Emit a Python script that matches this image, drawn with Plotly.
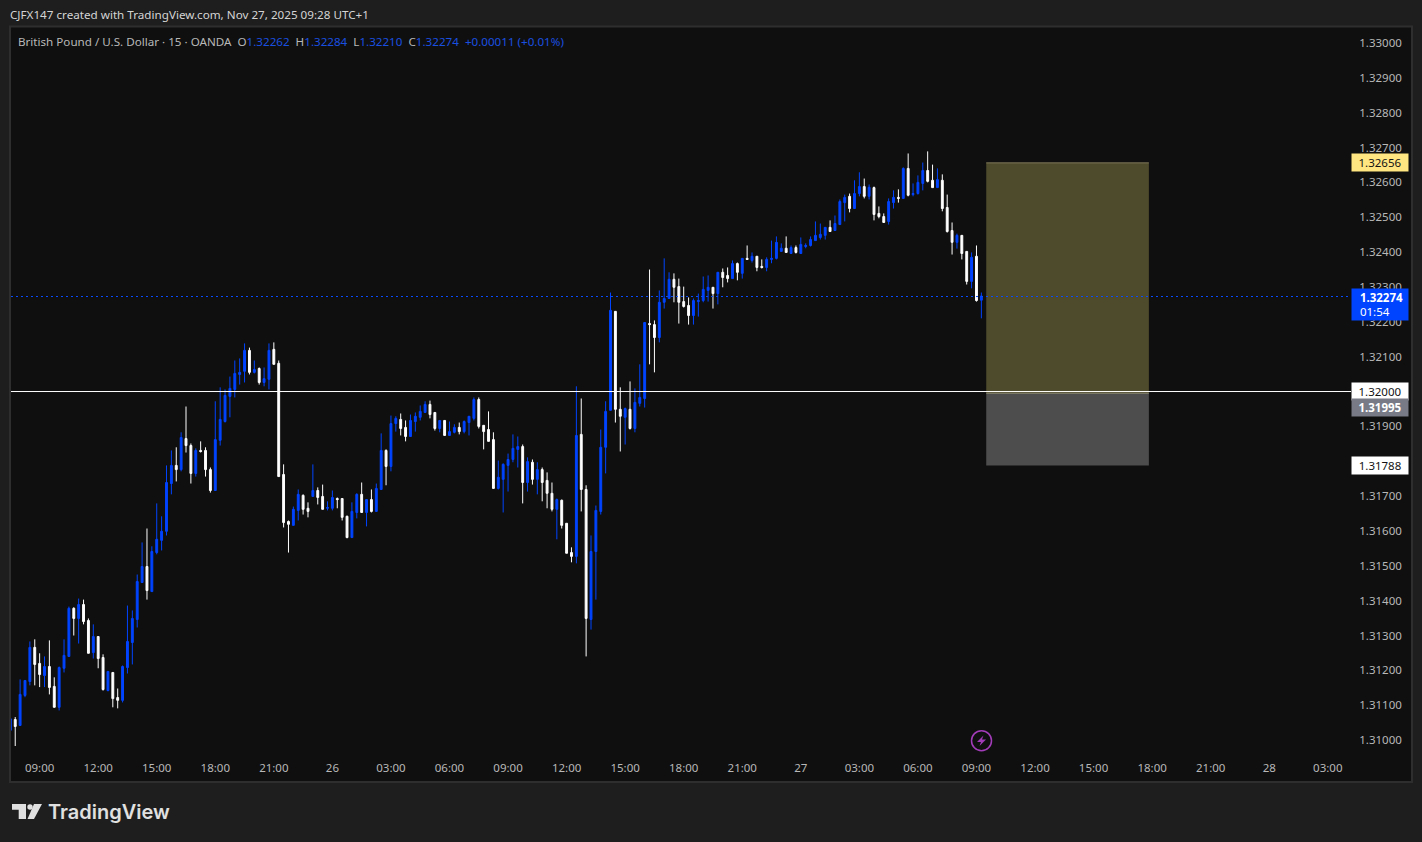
import pandas as pd
import plotly.graph_objects as go

# GBPUSD 15 min candles
times = pd.date_range("2025-11-25 07:30", periods=200, freq="15min")

opens = [
    1.31028, 1.31059, 1.31042, 1.31128, 1.31168, 1.31266, 1.31220, 1.31185, 1.31211, 1.31154,
    1.31094, 1.31206, 1.31240, 1.31378, 1.31349, 1.31389, 1.31343, 1.31251, 1.31297, 1.31237,
    1.31142, 1.31194, 1.31122, 1.31114, 1.31208, 1.31280, 1.31346, 1.31452, 1.31498, 1.31426,
    1.31538, 1.31573, 1.31599, 1.31736, 1.31788, 1.31776, 1.31865, 1.31845, 1.31765, 1.31831,
    1.31831, 1.31776, 1.31716, 1.31860, 1.31914, 1.31986, 1.32006, 1.32049, 1.32058, 1.32118,
    1.32055, 1.32066, 1.32026, 1.32035, 1.32121, 1.32081, 1.31762, 1.31627, 1.31616, 1.31659,
    1.31702, 1.31665, 1.31699, 1.31716, 1.31699, 1.31665, 1.31665, 1.31693, 1.31693, 1.31642,
    1.31581, 1.31653, 1.31705, 1.31653, 1.31690, 1.31656, 1.31719, 1.31831, 1.31785, 1.31908,
    1.31920, 1.31897, 1.31871, 1.31914, 1.31926, 1.31940, 1.31963, 1.31940, 1.31894, 1.31917,
    1.31874, 1.31883, 1.31897, 1.31885, 1.31911, 1.31923, 1.31977, 1.31903, 1.31891, 1.31862,
    1.31722, 1.31748, 1.31788, 1.31805, 1.31834, 1.31842, 1.31739, 1.31797, 1.31748, 1.31776,
    1.31745, 1.31708, 1.31662, 1.31688, 1.31622, 1.31538, 1.31527, 1.31877, 1.31719, 1.31346,
    1.31541, 1.31656, 1.31840, 1.31946, 1.32230, 1.31949, 1.31926, 1.31949, 1.31894, 1.31966,
    1.31980, 1.32195, 1.32192, 1.32155, 1.32256, 1.32267, 1.32322, 1.32301, 1.32258, 1.32247,
    1.32218, 1.32258, 1.32261, 1.32290, 1.32299, 1.32281, 1.32342, 1.32333, 1.32324, 1.32367,
    1.32339, 1.32382, 1.32376, 1.32388, 1.32359, 1.32356, 1.32379, 1.32382, 1.32402, 1.32411,
    1.32396, 1.32413, 1.32396, 1.32416, 1.32419, 1.32433, 1.32442, 1.32448, 1.32471, 1.32462,
    1.32479, 1.32542, 1.32560, 1.32525, 1.32568, 1.32588, 1.32560, 1.32585, 1.32511, 1.32502,
    1.32488, 1.32542, 1.32557, 1.32554, 1.32640, 1.32565, 1.32568, 1.32597, 1.32634, 1.32606,
    1.32585, 1.32606, 1.32528, 1.32462, 1.32428, 1.32448, 1.32402, 1.32316, 1.32388, 1.32262,
]
highs = [
    1.31066, 1.31066, 1.31174, 1.31171, 1.31283, 1.31289, 1.31249, 1.31240, 1.31286, 1.31180,
    1.31211, 1.31289, 1.31383, 1.31381, 1.31406, 1.31403, 1.31349, 1.31332, 1.31297, 1.31246,
    1.31197, 1.31194, 1.31148, 1.31214, 1.31386, 1.31372, 1.31475, 1.31567, 1.31607, 1.31556,
    1.31679, 1.31642, 1.31788, 1.31831, 1.31840, 1.31883, 1.31957, 1.31851, 1.31837, 1.31857,
    1.31840, 1.31782, 1.31972, 1.32012, 1.32006, 1.32043, 1.32089, 1.32095, 1.32138, 1.32126,
    1.32089, 1.32069, 1.32069, 1.32138, 1.32141, 1.32089, 1.31791, 1.31630, 1.31670, 1.31719,
    1.31705, 1.31682, 1.31791, 1.31725, 1.31733, 1.31685, 1.31716, 1.31696, 1.31693, 1.31644,
    1.31682, 1.31708, 1.31739, 1.31690, 1.31719, 1.31736, 1.31880, 1.31834, 1.31931, 1.31929,
    1.31937, 1.31917, 1.31934, 1.31940, 1.31960, 1.31972, 1.31974, 1.31940, 1.31917, 1.31917,
    1.31914, 1.31906, 1.31911, 1.31917, 1.31929, 1.31983, 1.31983, 1.31903, 1.31943, 1.31883,
    1.31802, 1.31794, 1.31822, 1.31877, 1.31871, 1.31848, 1.31811, 1.31805, 1.31797, 1.31782,
    1.31768, 1.31739, 1.31693, 1.31690, 1.31622, 1.31553, 1.32015, 1.31980, 1.31731, 1.31587,
    1.31673, 1.31891, 1.31972, 1.32284, 1.32230, 1.32012, 1.31954, 1.32029, 1.32009, 1.32078,
    1.32198, 1.32350, 1.32204, 1.32290, 1.32382, 1.32342, 1.32339, 1.32324, 1.32301, 1.32270,
    1.32267, 1.32281, 1.32330, 1.32333, 1.32299, 1.32342, 1.32353, 1.32356, 1.32376, 1.32370,
    1.32382, 1.32419, 1.32399, 1.32388, 1.32379, 1.32385, 1.32433, 1.32445, 1.32425, 1.32445,
    1.32419, 1.32419, 1.32442, 1.32425, 1.32445, 1.32488, 1.32482, 1.32471, 1.32491, 1.32505,
    1.32551, 1.32565, 1.32568, 1.32606, 1.32629, 1.32611, 1.32594, 1.32588, 1.32531, 1.32511,
    1.32554, 1.32577, 1.32580, 1.32643, 1.32683, 1.32597, 1.32620, 1.32657, 1.32689, 1.32651,
    1.32640, 1.32623, 1.32565, 1.32485, 1.32453, 1.32448, 1.32402, 1.32399, 1.32419, 1.32284,
]
lows = [
    1.31028, 1.30983, 1.31042, 1.31123, 1.31157, 1.31157, 1.31152, 1.31152, 1.31131, 1.31094,
    1.31085, 1.31194, 1.31240, 1.31300, 1.31277, 1.31332, 1.31249, 1.31234, 1.31206, 1.31142,
    1.31140, 1.31094, 1.31091, 1.31108, 1.31191, 1.31217, 1.31323, 1.31452, 1.31403, 1.31426,
    1.31533, 1.31544, 1.31587, 1.31705, 1.31742, 1.31771, 1.31825, 1.31736, 1.31756, 1.31825,
    1.31756, 1.31710, 1.31716, 1.31845, 1.31911, 1.31926, 1.31983, 1.32020, 1.32026, 1.32049,
    1.32052, 1.32020, 1.32015, 1.32006, 1.32078, 1.31756, 1.31610, 1.31538, 1.31616, 1.31630,
    1.31647, 1.31639, 1.31699, 1.31676, 1.31662, 1.31659, 1.31659, 1.31665, 1.31630, 1.31579,
    1.31581, 1.31636, 1.31653, 1.31613, 1.31653, 1.31656, 1.31719, 1.31731, 1.31771, 1.31885,
    1.31874, 1.31857, 1.31871, 1.31885, 1.31917, 1.31940, 1.31923, 1.31888, 1.31883, 1.31874,
    1.31874, 1.31880, 1.31877, 1.31880, 1.31874, 1.31917, 1.31894, 1.31834, 1.31857, 1.31722,
    1.31719, 1.31653, 1.31713, 1.31797, 1.31782, 1.31679, 1.31713, 1.31733, 1.31705, 1.31685,
    1.31665, 1.31656, 1.31576, 1.31607, 1.31536, 1.31510, 1.31507, 1.31656, 1.31240, 1.31317,
    1.31403, 1.31647, 1.31765, 1.31946, 1.31911, 1.31828, 1.31848, 1.31891, 1.31883, 1.31957,
    1.31954, 1.32078, 1.32055, 1.32141, 1.32238, 1.32267, 1.32256, 1.32195, 1.32241, 1.32192,
    1.32192, 1.32215, 1.32256, 1.32258, 1.32238, 1.32250, 1.32299, 1.32313, 1.32324, 1.32319,
    1.32324, 1.32379, 1.32370, 1.32345, 1.32353, 1.32345, 1.32368, 1.32379, 1.32402, 1.32399,
    1.32396, 1.32396, 1.32396, 1.32411, 1.32416, 1.32433, 1.32436, 1.32436, 1.32459, 1.32462,
    1.32479, 1.32488, 1.32514, 1.32525, 1.32560, 1.32554, 1.32551, 1.32491, 1.32497, 1.32485,
    1.32479, 1.32525, 1.32542, 1.32554, 1.32560, 1.32560, 1.32565, 1.32577, 1.32600, 1.32585,
    1.32585, 1.32517, 1.32456, 1.32393, 1.32410, 1.32379, 1.32307, 1.32296, 1.32258, 1.32210,
]
closes = [
    1.31061, 1.31039, 1.31131, 1.31171, 1.31266, 1.31217, 1.31188, 1.31211, 1.31151, 1.31094,
    1.31208, 1.31243, 1.31378, 1.31349, 1.31389, 1.31340, 1.31249, 1.31297, 1.31234, 1.31145,
    1.31197, 1.31119, 1.31114, 1.31211, 1.31283, 1.31349, 1.31455, 1.31498, 1.31429, 1.31541,
    1.31576, 1.31599, 1.31739, 1.31788, 1.31776, 1.31868, 1.31845, 1.31765, 1.31831, 1.31828,
    1.31776, 1.31716, 1.31862, 1.31920, 1.31989, 1.32009, 1.32052, 1.32055, 1.32118, 1.32055,
    1.32063, 1.32026, 1.32037, 1.32118, 1.32078, 1.31756, 1.31624, 1.31619, 1.31662, 1.31705,
    1.31662, 1.31656, 1.31716, 1.31696, 1.31662, 1.31667, 1.31696, 1.31690, 1.31639, 1.31581,
    1.31656, 1.31705, 1.31653, 1.31690, 1.31656, 1.31722, 1.31831, 1.31785, 1.31908, 1.31923,
    1.31894, 1.31871, 1.31917, 1.31929, 1.31943, 1.31963, 1.31934, 1.31894, 1.31917, 1.31874,
    1.31885, 1.31897, 1.31885, 1.31914, 1.31929, 1.31977, 1.31900, 1.31885, 1.31857, 1.31722,
    1.31754, 1.31791, 1.31805, 1.31837, 1.31842, 1.31739, 1.31799, 1.31748, 1.31776, 1.31739,
    1.31708, 1.31662, 1.31690, 1.31616, 1.31536, 1.31527, 1.31874, 1.31719, 1.31349, 1.31541,
    1.31659, 1.31840, 1.31943, 1.32233, 1.31949, 1.31929, 1.31951, 1.31894, 1.31969, 1.31983,
    1.32198, 1.32192, 1.32155, 1.32256, 1.32267, 1.32322, 1.32299, 1.32256, 1.32244, 1.32218,
    1.32261, 1.32261, 1.32293, 1.32299, 1.32281, 1.32342, 1.32327, 1.32324, 1.32367, 1.32342,
    1.32382, 1.32379, 1.32388, 1.32356, 1.32356, 1.32379, 1.32382, 1.32428, 1.32411, 1.32399,
    1.32413, 1.32399, 1.32422, 1.32419, 1.32436, 1.32448, 1.32451, 1.32471, 1.32459, 1.32482,
    1.32545, 1.32557, 1.32525, 1.32568, 1.32588, 1.32560, 1.32586, 1.32508, 1.32502, 1.32485,
    1.32545, 1.32557, 1.32554, 1.32640, 1.32563, 1.32568, 1.32600, 1.32634, 1.32603, 1.32585,
    1.32608, 1.32525, 1.32459, 1.32428, 1.32448, 1.32396, 1.32316, 1.32385, 1.32261, 1.32274,
]

price_ticks = [1.31, 1.311, 1.312, 1.313, 1.314, 1.315, 1.316, 1.317, 1.318, 1.319, 1.32,
               1.321, 1.322, 1.323, 1.324, 1.325, 1.326, 1.327, 1.328, 1.329, 1.33]
time_labels = ["09:00", "12:00", "15:00", "18:00", "21:00", "26", "03:00", "06:00", "09:00",
               "12:00", "15:00", "18:00", "21:00", "27", "03:00", "06:00", "09:00", "12:00",
               "15:00", "18:00", "21:00", "28", "03:00"]
time_ticks = pd.date_range("2025-11-25 09:00", periods=len(time_labels), freq="3h")

last_price = 1.32274
level = 1.32
target = 1.32656
entry = 1.31995
stop = 1.31788

BLUE = "#0044ff"
TEXT = "#b8b8b8"
FONT = "Noto Sans"

W, H = 1422, 842
L, R, T, B = 11, 1346, 27, 752


# pixel -> paper, for the bits that live outside the price scale
def px(x):
    return (x - L) / (R - L)


def py(y):
    return (B - y) / (B - T)


def poly(points):
    return "M" + " L".join(f"{px(x):.5f},{py(y):.5f}" for x, y in points) + " Z"


fig = go.Figure(go.Candlestick(
    x=times, open=opens, high=highs, low=lows, close=closes,
    increasing=dict(line=dict(color=BLUE, width=1), fillcolor=BLUE),
    decreasing=dict(line=dict(color="#ffffff", width=1), fillcolor="#ffffff"),
    whiskerwidth=0, showlegend=False, hoverinfo="skip",
))

shapes = [
    # chart panel
    dict(type="rect", xref="paper", yref="paper", x0=px(10), x1=px(1412), y0=py(782), y1=py(26.5),
         fillcolor="#0f0f0f", line=dict(color="#2e2e2e", width=2), layer="below"),
    # long position box
    dict(type="rect", xref="x", yref="y", x0="2025-11-27 09:30", x1="2025-11-27 17:50",
         y0=entry, y1=target, fillcolor="#4e4a2c", line_width=0, layer="below"),
    dict(type="rect", xref="x", yref="y", x0="2025-11-27 09:30", x1="2025-11-27 17:50",
         y0=stop, y1=entry, fillcolor="#4d4d4d", line_width=0, layer="below"),
    dict(type="line", xref="x", yref="y", x0="2025-11-27 09:30", x1="2025-11-27 17:50",
         y0=target, y1=target, line=dict(color="#7d7858", width=1)),
    dict(type="line", xref="x", yref="y", x0="2025-11-27 09:30", x1="2025-11-27 17:50",
         y0=entry, y1=entry, line=dict(color="#8a8a70", width=1)),
    # horizontal level and last price
    dict(type="line", xref="paper", yref="y", x0=0, x1=px(1351), y0=level, y1=level,
         line=dict(color="#ffffff", width=1)),
    dict(type="line", xref="paper", yref="y", ysizemode="pixel", yanchor=last_price, y0=-0.5, y1=-0.5,
         x0=0, x1=px(1351), line=dict(color="#0a4cff", width=1, dash="2px,3px")),
    # lightning badge
    dict(type="circle", xref="paper", yref="paper", x0=px(971.5), x1=px(991.5), y0=py(750.7), y1=py(730.7),
         line=dict(color="#a23cb8", width=1.5)),
    dict(type="path", xref="paper", yref="paper", line_width=0, fillcolor="#a23cb8",
         path=poly([(983.5, 735.5), (977, 742), (981, 742), (979.5, 746), (986, 739.5), (982, 739.5)])),
    # TradingView mark
    dict(type="path", xref="paper", yref="paper", line_width=0, fillcolor="#e0e0e0",
         path=poly([(12, 804), (26, 804), (26, 819), (18.7, 819), (18.7, 809.7), (12, 809.7)])),
    dict(type="circle", xref="paper", yref="paper", x0=px(27.3), x1=px(32.7), y0=py(809.7), y1=py(804.3),
         line_width=0, fillcolor="#e0e0e0"),
    dict(type="path", xref="paper", yref="paper", line_width=0, fillcolor="#e0e0e0",
         path=poly([(34, 804), (42, 804), (34, 819), (27.5, 819)])),
]


def price_tag(y, text, bg, color, h=17, bold=False, align="center"):
    label = f"<b>{text}</b>" if bold else text
    return dict(xref="paper", yref="y", x=px(1351), y=y, xanchor="left", yanchor="middle",
                text=label, showarrow=False, width=56, height=h, bgcolor=bg, borderpad=0,
                align=align, font=dict(family=FONT, size=11.5, color=color))


grey = "color:#b8b8b8"
blue = "color:#1a50e0"
legend_text = (
    f"<span style='{grey}'>British Pound / U.S. Dollar · 15 · OANDA &nbsp;O</span>"
    f"<span style='{blue}'>1.32262</span><span style='{grey}'> &nbsp;H</span>"
    f"<span style='{blue}'>1.32284</span><span style='{grey}'> &nbsp;L</span>"
    f"<span style='{blue}'>1.32210</span><span style='{grey}'> &nbsp;C</span>"
    f"<span style='{blue}'>1.32274 &nbsp;+0.00011 (+0.01%)</span>"
)

annotations = [
    dict(xref="paper", yref="paper", x=px(8), y=py(14), xanchor="left", yanchor="middle", showarrow=False,
         text="CJFX147 created with TradingView.com, Nov 27, 2025 09:28 UTC+1",
         font=dict(family=FONT, size=11.66, color="#d4d4d4")),
    dict(xref="paper", yref="paper", x=px(15.5), y=py(41), xanchor="left", yanchor="middle", showarrow=False,
         text=legend_text, font=dict(family=FONT, size=11.63)),
    dict(xref="paper", yref="paper", x=px(46), y=py(812), xanchor="left", yanchor="middle", showarrow=False,
         text="TradingView", font=dict(family="Inter", size=20, weight=600, color="#e0e0e0")),
    price_tag(target, "1.32656", "#ffe680", "#131313"),
    price_tag(last_price - 0.00023, "&nbsp;&nbsp;&#8201;<b>1.32274</b><br>&nbsp;&nbsp;&#8201;01:54", BLUE, "#ffffff",
              h=31, align="left"),
    price_tag(level, "1.32000", "#ffffff", "#131313"),
    price_tag(entry - 0.00042, "1.31995", "#787b86", "#ffffff", bold=True),
    price_tag(stop, "1.31788", "#ffffff", "#131313"),
]

fig.update_layout(
    width=W, height=H,
    margin=dict(l=L, r=W - R, t=T, b=H - B, autoexpand=False),
    paper_bgcolor="#1e1e1e", plot_bgcolor="rgba(0,0,0,0)",
    font=dict(family=FONT, size=11.5, color=TEXT),
    shapes=shapes, annotations=annotations, showlegend=False,
    boxgap=0.45,
    xaxis=dict(
        range=["2025-11-25 07:32", "2025-11-28 03:56"], rangeslider_visible=False,
        showgrid=False, zeroline=False, showline=False,
        tickmode="array", tickvals=time_ticks, ticktext=time_labels,
        ticks="outside", ticklen=5, tickcolor="rgba(0,0,0,0)", tickangle=0,
    ),
    yaxis=dict(
        range=[1.309658, 1.330458], side="right",
        showgrid=False, zeroline=False, showline=False,
        tickmode="array", tickvals=price_ticks, tickformat=".5f",
        ticks="outside", ticklen=10, tickcolor="rgba(0,0,0,0)",
    ),
)

# drop the browser's default page margin so the figure sits at 0,0
fig.write_html("out.html", config=dict(displayModeBar=False),
               post_script="document.body.style.margin='0';")
